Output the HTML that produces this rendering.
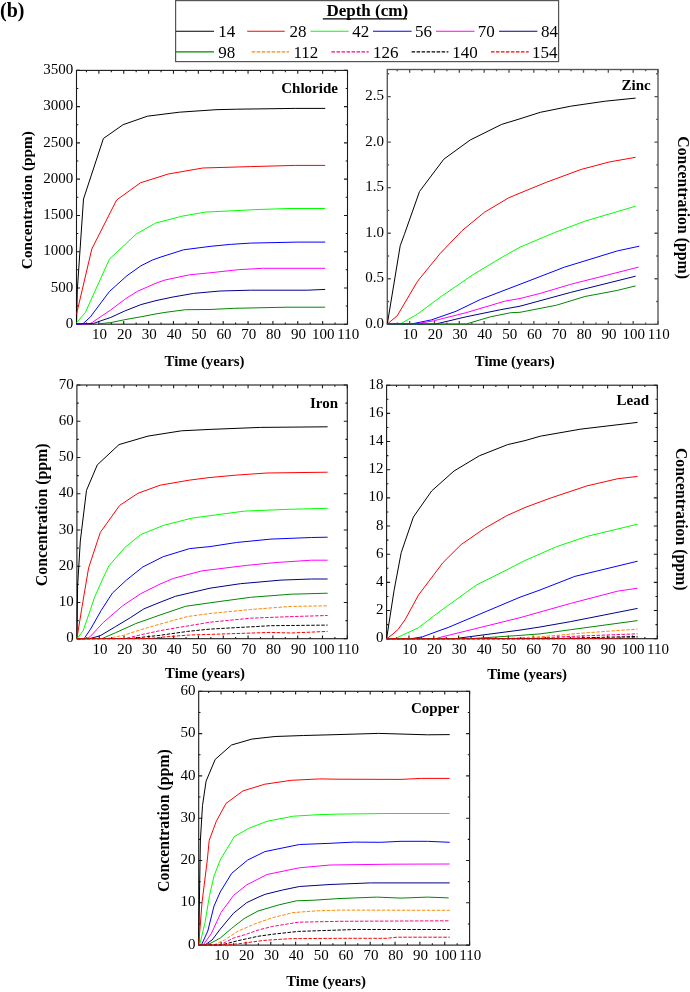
<!DOCTYPE html>
<html><head><meta charset="utf-8"><style>
html,body{margin:0;padding:0;background:#fff;width:690px;height:992px;overflow:hidden}
svg{display:block;will-change:transform}
text{font-family:"Liberation Serif", serif;fill:#000}
</style></head><body>
<svg width="690" height="992" viewBox="0 0 690 992">
<rect x="76.5" y="70.4" width="271" height="253.8" fill="none" stroke="#1a1a1a" stroke-width="1.1"/>
<text x="73.3" y="327.8" text-anchor="end" font-size="15">0</text>
<text x="73.3" y="291.54" text-anchor="end" font-size="15">500</text>
<text x="73.3" y="255.29" text-anchor="end" font-size="15">1000</text>
<text x="73.3" y="219.03" text-anchor="end" font-size="15">1500</text>
<text x="73.3" y="182.77" text-anchor="end" font-size="15">2000</text>
<text x="73.3" y="146.51" text-anchor="end" font-size="15">2500</text>
<text x="73.3" y="110.26" text-anchor="end" font-size="15">3000</text>
<text x="73.3" y="74" text-anchor="end" font-size="15">3500</text>
<path d="M86.44 324.2v-1.8M86.44 70.4v1.8M98.88 324.2v-3.3M98.88 70.4v3.3M111.31 324.2v-1.8M111.31 70.4v1.8M123.74 324.2v-3.3M123.74 70.4v3.3M136.17 324.2v-1.8M136.17 70.4v1.8M148.6 324.2v-3.3M148.6 70.4v3.3M161.03 324.2v-1.8M161.03 70.4v1.8M173.46 324.2v-3.3M173.46 70.4v3.3M185.89 324.2v-1.8M185.89 70.4v1.8M198.33 324.2v-3.3M198.33 70.4v3.3M210.76 324.2v-1.8M210.76 70.4v1.8M223.19 324.2v-3.3M223.19 70.4v3.3M235.62 324.2v-1.8M235.62 70.4v1.8M248.05 324.2v-3.3M248.05 70.4v3.3M260.48 324.2v-1.8M260.48 70.4v1.8M272.91 324.2v-3.3M272.91 70.4v3.3M285.34 324.2v-1.8M285.34 70.4v1.8M297.78 324.2v-3.3M297.78 70.4v3.3M310.21 324.2v-1.8M310.21 70.4v1.8M322.64 324.2v-3.3M322.64 70.4v3.3M335.07 324.2v-1.8M335.07 70.4v1.8M347.5 324.2v-3.3M347.5 70.4v3.3M76.5 324.2h3.5M347.5 324.2h-3.5M76.5 306.07h1.8M347.5 306.07h-1.8M76.5 287.94h3.5M347.5 287.94h-3.5M76.5 269.81h1.8M347.5 269.81h-1.8M76.5 251.69h3.5M347.5 251.69h-3.5M76.5 233.56h1.8M347.5 233.56h-1.8M76.5 215.43h3.5M347.5 215.43h-3.5M76.5 197.3h1.8M347.5 197.3h-1.8M76.5 179.17h3.5M347.5 179.17h-3.5M76.5 161.04h1.8M347.5 161.04h-1.8M76.5 142.91h3.5M347.5 142.91h-3.5M76.5 124.79h1.8M347.5 124.79h-1.8M76.5 106.66h3.5M347.5 106.66h-3.5M76.5 88.53h1.8M347.5 88.53h-1.8M76.5 70.4h3.5M347.5 70.4h-3.5" stroke="#1a1a1a" stroke-width="1.1" fill="none"/>
<text x="99.58" y="339.3" text-anchor="middle" font-size="15">10</text>
<text x="124.44" y="339.3" text-anchor="middle" font-size="15">20</text>
<text x="149.3" y="339.3" text-anchor="middle" font-size="15">30</text>
<text x="174.16" y="339.3" text-anchor="middle" font-size="15">40</text>
<text x="199.03" y="339.3" text-anchor="middle" font-size="15">50</text>
<text x="223.89" y="339.3" text-anchor="middle" font-size="15">60</text>
<text x="248.75" y="339.3" text-anchor="middle" font-size="15">70</text>
<text x="273.61" y="339.3" text-anchor="middle" font-size="15">80</text>
<text x="298.48" y="339.3" text-anchor="middle" font-size="15">90</text>
<text x="323.34" y="339.3" text-anchor="middle" font-size="15">100</text>
<text x="348.2" y="339.3" text-anchor="middle" font-size="15">110</text>
<text x="164.6" y="366" font-size="14.8" font-weight="bold">Time (years)</text>
<text transform="translate(31.6,200.1) rotate(-90)" text-anchor="middle" font-size="15.3" font-weight="bold">Concentration (ppm)</text>
<text x="337.9" y="93.2" text-anchor="end" font-size="15" font-weight="bold">Chloride</text>
<rect x="387.3" y="69.5" width="270.7" height="254.8" fill="none" stroke="#555" stroke-width="1.35"/>
<text x="384.1" y="327.9" text-anchor="end" font-size="15">0.0</text>
<text x="384.1" y="282.35" text-anchor="end" font-size="15">0.5</text>
<text x="384.1" y="236.8" text-anchor="end" font-size="15">1.0</text>
<text x="384.1" y="191.25" text-anchor="end" font-size="15">1.5</text>
<text x="384.1" y="145.7" text-anchor="end" font-size="15">2.0</text>
<text x="384.1" y="100.15" text-anchor="end" font-size="15">2.5</text>
<path d="M397.23 324.3v-1.8M397.23 69.5v1.8M409.65 324.3v-3.3M409.65 69.5v3.3M422.07 324.3v-1.8M422.07 69.5v1.8M434.49 324.3v-3.3M434.49 69.5v3.3M446.9 324.3v-1.8M446.9 69.5v1.8M459.32 324.3v-3.3M459.32 69.5v3.3M471.74 324.3v-1.8M471.74 69.5v1.8M484.16 324.3v-3.3M484.16 69.5v3.3M496.57 324.3v-1.8M496.57 69.5v1.8M508.99 324.3v-3.3M508.99 69.5v3.3M521.41 324.3v-1.8M521.41 69.5v1.8M533.83 324.3v-3.3M533.83 69.5v3.3M546.24 324.3v-1.8M546.24 69.5v1.8M558.66 324.3v-3.3M558.66 69.5v3.3M571.08 324.3v-1.8M571.08 69.5v1.8M583.5 324.3v-3.3M583.5 69.5v3.3M595.91 324.3v-1.8M595.91 69.5v1.8M608.33 324.3v-3.3M608.33 69.5v3.3M620.75 324.3v-1.8M620.75 69.5v1.8M633.17 324.3v-3.3M633.17 69.5v3.3M645.58 324.3v-1.8M645.58 69.5v1.8M658 324.3v-3.3M658 69.5v3.3M387.3 324.3h3.5M658 324.3h-3.5M387.3 301.53h1.8M658 301.53h-1.8M387.3 278.75h3.5M658 278.75h-3.5M387.3 255.98h1.8M658 255.98h-1.8M387.3 233.2h3.5M658 233.2h-3.5M387.3 210.43h1.8M658 210.43h-1.8M387.3 187.65h3.5M658 187.65h-3.5M387.3 164.88h1.8M658 164.88h-1.8M387.3 142.1h3.5M658 142.1h-3.5M387.3 119.33h1.8M658 119.33h-1.8M387.3 96.55h3.5M658 96.55h-3.5M387.3 73.78h1.8M658 73.78h-1.8" stroke="#555" stroke-width="1.35" fill="none"/>
<text x="410.35" y="339.4" text-anchor="middle" font-size="15">10</text>
<text x="435.19" y="339.4" text-anchor="middle" font-size="15">20</text>
<text x="460.02" y="339.4" text-anchor="middle" font-size="15">30</text>
<text x="484.86" y="339.4" text-anchor="middle" font-size="15">40</text>
<text x="509.69" y="339.4" text-anchor="middle" font-size="15">50</text>
<text x="534.53" y="339.4" text-anchor="middle" font-size="15">60</text>
<text x="559.36" y="339.4" text-anchor="middle" font-size="15">70</text>
<text x="584.2" y="339.4" text-anchor="middle" font-size="15">80</text>
<text x="609.03" y="339.4" text-anchor="middle" font-size="15">90</text>
<text x="633.87" y="339.4" text-anchor="middle" font-size="15">100</text>
<text x="658.7" y="339.4" text-anchor="middle" font-size="15">110</text>
<text x="474.8" y="365.7" font-size="14.8" font-weight="bold">Time (years)</text>
<text transform="translate(677.6,207.6) rotate(90)" text-anchor="middle" font-size="15.8" font-weight="bold">Concentration (ppm)</text>
<text x="650.7" y="89.6" text-anchor="end" font-size="15" font-weight="bold">Zinc</text>
<rect x="76.9" y="385" width="270.4" height="253.7" fill="none" stroke="#1a1a1a" stroke-width="1.1"/>
<text x="73.7" y="642.3" text-anchor="end" font-size="15">0</text>
<text x="73.7" y="606.06" text-anchor="end" font-size="15">10</text>
<text x="73.7" y="569.81" text-anchor="end" font-size="15">20</text>
<text x="73.7" y="533.57" text-anchor="end" font-size="15">30</text>
<text x="73.7" y="497.33" text-anchor="end" font-size="15">40</text>
<text x="73.7" y="461.09" text-anchor="end" font-size="15">50</text>
<text x="73.7" y="424.84" text-anchor="end" font-size="15">60</text>
<text x="73.7" y="388.6" text-anchor="end" font-size="15">70</text>
<path d="M86.82 638.7v-1.8M86.82 385v1.8M99.23 638.7v-3.3M99.23 385v3.3M111.63 638.7v-1.8M111.63 385v1.8M124.03 638.7v-3.3M124.03 385v3.3M136.44 638.7v-1.8M136.44 385v1.8M148.84 638.7v-3.3M148.84 385v3.3M161.24 638.7v-1.8M161.24 385v1.8M173.65 638.7v-3.3M173.65 385v3.3M186.05 638.7v-1.8M186.05 385v1.8M198.46 638.7v-3.3M198.46 385v3.3M210.86 638.7v-1.8M210.86 385v1.8M223.26 638.7v-3.3M223.26 385v3.3M235.67 638.7v-1.8M235.67 385v1.8M248.07 638.7v-3.3M248.07 385v3.3M260.47 638.7v-1.8M260.47 385v1.8M272.88 638.7v-3.3M272.88 385v3.3M285.28 638.7v-1.8M285.28 385v1.8M297.69 638.7v-3.3M297.69 385v3.3M310.09 638.7v-1.8M310.09 385v1.8M322.49 638.7v-3.3M322.49 385v3.3M334.9 638.7v-1.8M334.9 385v1.8M347.3 638.7v-3.3M347.3 385v3.3M76.9 638.7h3.5M347.3 638.7h-3.5M76.9 620.58h1.8M347.3 620.58h-1.8M76.9 602.46h3.5M347.3 602.46h-3.5M76.9 584.34h1.8M347.3 584.34h-1.8M76.9 566.21h3.5M347.3 566.21h-3.5M76.9 548.09h1.8M347.3 548.09h-1.8M76.9 529.97h3.5M347.3 529.97h-3.5M76.9 511.85h1.8M347.3 511.85h-1.8M76.9 493.73h3.5M347.3 493.73h-3.5M76.9 475.61h1.8M347.3 475.61h-1.8M76.9 457.49h3.5M347.3 457.49h-3.5M76.9 439.36h1.8M347.3 439.36h-1.8M76.9 421.24h3.5M347.3 421.24h-3.5M76.9 403.12h1.8M347.3 403.12h-1.8M76.9 385h3.5M347.3 385h-3.5" stroke="#1a1a1a" stroke-width="1.1" fill="none"/>
<text x="99.93" y="653.8" text-anchor="middle" font-size="15">10</text>
<text x="124.73" y="653.8" text-anchor="middle" font-size="15">20</text>
<text x="149.54" y="653.8" text-anchor="middle" font-size="15">30</text>
<text x="174.35" y="653.8" text-anchor="middle" font-size="15">40</text>
<text x="199.16" y="653.8" text-anchor="middle" font-size="15">50</text>
<text x="223.96" y="653.8" text-anchor="middle" font-size="15">60</text>
<text x="248.77" y="653.8" text-anchor="middle" font-size="15">70</text>
<text x="273.58" y="653.8" text-anchor="middle" font-size="15">80</text>
<text x="298.39" y="653.8" text-anchor="middle" font-size="15">90</text>
<text x="323.19" y="653.8" text-anchor="middle" font-size="15">100</text>
<text x="348" y="653.8" text-anchor="middle" font-size="15">110</text>
<text x="165.1" y="677.8" font-size="14.8" font-weight="bold">Time (years)</text>
<text transform="translate(46.8,514.85) rotate(-90)" text-anchor="middle" font-size="15.8" font-weight="bold">Concentration (ppm)</text>
<text x="338" y="407.8" text-anchor="end" font-size="15" font-weight="bold">Iron</text>
<rect x="386.6" y="385.2" width="270.7" height="253.5" fill="none" stroke="#1a1a1a" stroke-width="1.1"/>
<text x="383.4" y="642.3" text-anchor="end" font-size="15">0</text>
<text x="383.4" y="614.13" text-anchor="end" font-size="15">2</text>
<text x="383.4" y="585.97" text-anchor="end" font-size="15">4</text>
<text x="383.4" y="557.8" text-anchor="end" font-size="15">6</text>
<text x="383.4" y="529.63" text-anchor="end" font-size="15">8</text>
<text x="383.4" y="501.47" text-anchor="end" font-size="15">10</text>
<text x="383.4" y="473.3" text-anchor="end" font-size="15">12</text>
<text x="383.4" y="445.13" text-anchor="end" font-size="15">14</text>
<text x="383.4" y="416.97" text-anchor="end" font-size="15">16</text>
<text x="383.4" y="388.8" text-anchor="end" font-size="15">18</text>
<path d="M396.53 638.7v-1.8M396.53 385.2v1.8M408.95 638.7v-3.3M408.95 385.2v3.3M421.37 638.7v-1.8M421.37 385.2v1.8M433.79 638.7v-3.3M433.79 385.2v3.3M446.2 638.7v-1.8M446.2 385.2v1.8M458.62 638.7v-3.3M458.62 385.2v3.3M471.04 638.7v-1.8M471.04 385.2v1.8M483.46 638.7v-3.3M483.46 385.2v3.3M495.87 638.7v-1.8M495.87 385.2v1.8M508.29 638.7v-3.3M508.29 385.2v3.3M520.71 638.7v-1.8M520.71 385.2v1.8M533.13 638.7v-3.3M533.13 385.2v3.3M545.54 638.7v-1.8M545.54 385.2v1.8M557.96 638.7v-3.3M557.96 385.2v3.3M570.38 638.7v-1.8M570.38 385.2v1.8M582.8 638.7v-3.3M582.8 385.2v3.3M595.21 638.7v-1.8M595.21 385.2v1.8M607.63 638.7v-3.3M607.63 385.2v3.3M620.05 638.7v-1.8M620.05 385.2v1.8M632.47 638.7v-3.3M632.47 385.2v3.3M644.88 638.7v-1.8M644.88 385.2v1.8M657.3 638.7v-3.3M657.3 385.2v3.3M386.6 638.7h3.5M657.3 638.7h-3.5M386.6 624.62h1.8M657.3 624.62h-1.8M386.6 610.53h3.5M657.3 610.53h-3.5M386.6 596.45h1.8M657.3 596.45h-1.8M386.6 582.37h3.5M657.3 582.37h-3.5M386.6 568.28h1.8M657.3 568.28h-1.8M386.6 554.2h3.5M657.3 554.2h-3.5M386.6 540.12h1.8M657.3 540.12h-1.8M386.6 526.03h3.5M657.3 526.03h-3.5M386.6 511.95h1.8M657.3 511.95h-1.8M386.6 497.87h3.5M657.3 497.87h-3.5M386.6 483.78h1.8M657.3 483.78h-1.8M386.6 469.7h3.5M657.3 469.7h-3.5M386.6 455.62h1.8M657.3 455.62h-1.8M386.6 441.53h3.5M657.3 441.53h-3.5M386.6 427.45h1.8M657.3 427.45h-1.8M386.6 413.37h3.5M657.3 413.37h-3.5M386.6 399.28h1.8M657.3 399.28h-1.8M386.6 385.2h3.5M657.3 385.2h-3.5" stroke="#1a1a1a" stroke-width="1.1" fill="none"/>
<text x="409.65" y="653.8" text-anchor="middle" font-size="15">10</text>
<text x="434.49" y="653.8" text-anchor="middle" font-size="15">20</text>
<text x="459.32" y="653.8" text-anchor="middle" font-size="15">30</text>
<text x="484.16" y="653.8" text-anchor="middle" font-size="15">40</text>
<text x="508.99" y="653.8" text-anchor="middle" font-size="15">50</text>
<text x="533.83" y="653.8" text-anchor="middle" font-size="15">60</text>
<text x="558.66" y="653.8" text-anchor="middle" font-size="15">70</text>
<text x="583.5" y="653.8" text-anchor="middle" font-size="15">80</text>
<text x="608.33" y="653.8" text-anchor="middle" font-size="15">90</text>
<text x="633.17" y="653.8" text-anchor="middle" font-size="15">100</text>
<text x="658" y="653.8" text-anchor="middle" font-size="15">110</text>
<text x="487.2" y="678.6" font-size="14.8" font-weight="bold">Time (years)</text>
<text transform="translate(676,519.2) rotate(90)" text-anchor="middle" font-size="15.8" font-weight="bold">Concentration (ppm)</text>
<text x="649" y="405" text-anchor="end" font-size="15" font-weight="bold">Lead</text>
<rect x="198.7" y="691.3" width="270.9" height="253.8" fill="none" stroke="#1a1a1a" stroke-width="1.1"/>
<text x="195.5" y="948.7" text-anchor="end" font-size="15">0</text>
<text x="195.5" y="906.4" text-anchor="end" font-size="15">10</text>
<text x="195.5" y="864.1" text-anchor="end" font-size="15">20</text>
<text x="195.5" y="821.8" text-anchor="end" font-size="15">30</text>
<text x="195.5" y="779.5" text-anchor="end" font-size="15">40</text>
<text x="195.5" y="737.2" text-anchor="end" font-size="15">50</text>
<text x="195.5" y="694.9" text-anchor="end" font-size="15">60</text>
<path d="M208.64 945.1v-1.8M208.64 691.3v1.8M221.07 945.1v-3.3M221.07 691.3v3.3M233.49 945.1v-1.8M233.49 691.3v1.8M245.92 945.1v-3.3M245.92 691.3v3.3M258.35 945.1v-1.8M258.35 691.3v1.8M270.77 945.1v-3.3M270.77 691.3v3.3M283.2 945.1v-1.8M283.2 691.3v1.8M295.63 945.1v-3.3M295.63 691.3v3.3M308.05 945.1v-1.8M308.05 691.3v1.8M320.48 945.1v-3.3M320.48 691.3v3.3M332.91 945.1v-1.8M332.91 691.3v1.8M345.33 945.1v-3.3M345.33 691.3v3.3M357.76 945.1v-1.8M357.76 691.3v1.8M370.19 945.1v-3.3M370.19 691.3v3.3M382.61 945.1v-1.8M382.61 691.3v1.8M395.04 945.1v-3.3M395.04 691.3v3.3M407.47 945.1v-1.8M407.47 691.3v1.8M419.89 945.1v-3.3M419.89 691.3v3.3M432.32 945.1v-1.8M432.32 691.3v1.8M444.75 945.1v-3.3M444.75 691.3v3.3M457.17 945.1v-1.8M457.17 691.3v1.8M469.6 945.1v-3.3M469.6 691.3v3.3M198.7 945.1h3.5M469.6 945.1h-3.5M198.7 923.95h1.8M469.6 923.95h-1.8M198.7 902.8h3.5M469.6 902.8h-3.5M198.7 881.65h1.8M469.6 881.65h-1.8M198.7 860.5h3.5M469.6 860.5h-3.5M198.7 839.35h1.8M469.6 839.35h-1.8M198.7 818.2h3.5M469.6 818.2h-3.5M198.7 797.05h1.8M469.6 797.05h-1.8M198.7 775.9h3.5M469.6 775.9h-3.5M198.7 754.75h1.8M469.6 754.75h-1.8M198.7 733.6h3.5M469.6 733.6h-3.5M198.7 712.45h1.8M469.6 712.45h-1.8M198.7 691.3h3.5M469.6 691.3h-3.5" stroke="#1a1a1a" stroke-width="1.1" fill="none"/>
<text x="221.77" y="960.2" text-anchor="middle" font-size="15">10</text>
<text x="246.62" y="960.2" text-anchor="middle" font-size="15">20</text>
<text x="271.47" y="960.2" text-anchor="middle" font-size="15">30</text>
<text x="296.33" y="960.2" text-anchor="middle" font-size="15">40</text>
<text x="321.18" y="960.2" text-anchor="middle" font-size="15">50</text>
<text x="346.03" y="960.2" text-anchor="middle" font-size="15">60</text>
<text x="370.89" y="960.2" text-anchor="middle" font-size="15">70</text>
<text x="395.74" y="960.2" text-anchor="middle" font-size="15">80</text>
<text x="420.59" y="960.2" text-anchor="middle" font-size="15">90</text>
<text x="445.45" y="960.2" text-anchor="middle" font-size="15">100</text>
<text x="470.3" y="960.2" text-anchor="middle" font-size="15">110</text>
<text x="286.2" y="985.9" font-size="14.8" font-weight="bold">Time (years)</text>
<text transform="translate(169,820.6) rotate(-90)" text-anchor="middle" font-size="15.8" font-weight="bold">Concentration (ppm)</text>
<text x="459.3" y="712.5" text-anchor="end" font-size="15" font-weight="bold">Copper</text>
<rect x="175.6" y="0.6" width="383" height="61" fill="none" stroke="#555" stroke-width="1.2"/>
<text x="326.4" y="16" font-size="17" font-weight="bold">Depth (cm)</text>
<line x1="322.8" y1="18.8" x2="407" y2="18.8" stroke="#000" stroke-width="1.2"/>
<line x1="176" y1="31.3" x2="214" y2="31.3" stroke="#000" stroke-width="1.1"/>
<text x="218.3" y="37.2" font-size="17">14</text>
<line x1="247.2" y1="31.3" x2="284.7" y2="31.3" stroke="#f00" stroke-width="1.1"/>
<text x="289.4" y="37.2" font-size="17">28</text>
<line x1="310.5" y1="31.3" x2="348.7" y2="31.3" stroke="#0f0" stroke-width="1.1"/>
<text x="352.2" y="37.2" font-size="17">42</text>
<line x1="373" y1="31.3" x2="411.6" y2="31.3" stroke="#00f" stroke-width="1.1"/>
<text x="415" y="37.2" font-size="17">56</text>
<line x1="436" y1="31.3" x2="474.5" y2="31.3" stroke="#f0f" stroke-width="1.1"/>
<text x="477.8" y="37.2" font-size="17">70</text>
<line x1="499.1" y1="31.3" x2="537.4" y2="31.3" stroke="#008" stroke-width="1.1"/>
<text x="541" y="37.2" font-size="17">84</text>
<line x1="176" y1="51.9" x2="214" y2="51.9" stroke="#080" stroke-width="1.1"/>
<text x="218.2" y="58.0" font-size="17">98</text>
<line x1="251.7" y1="51.9" x2="289.1" y2="51.9" stroke="#f80" stroke-width="1.1" stroke-dasharray="3.5,1.5"/>
<text x="293.4" y="58.0" font-size="17">112</text>
<line x1="331.5" y1="51.9" x2="368.7" y2="51.9" stroke="#f08" stroke-width="1.1" stroke-dasharray="3.5,1.5"/>
<text x="372.9" y="58.0" font-size="17">126</text>
<line x1="411.6" y1="51.9" x2="448.4" y2="51.9" stroke="#000" stroke-width="1.1" stroke-dasharray="3.5,1.5"/>
<text x="452.3" y="58.0" font-size="17">140</text>
<line x1="491" y1="51.9" x2="528.7" y2="51.9" stroke="#f00" stroke-width="1.1" stroke-dasharray="3.5,1.5"/>
<text x="532" y="58.0" font-size="17">154</text>
<text x="0" y="16.5" font-size="20" font-weight="bold">(b)</text>
<polyline points="76.5,324 77.3,290 83.5,199 103.4,138.5 123.1,124.7 147.4,116.2 179.4,112.2 216,109.7 236.4,109.2 295.2,108.4 325.2,108.4" fill="none" stroke="#000" stroke-width="1" stroke-linejoin="round"/>
<polyline points="76.5,314.2 91.8,249 116.6,200 140.5,182.8 168.3,174 202.8,168 250.6,166.6 295.2,165.4 325.2,165.4" fill="none" stroke="#f00" stroke-width="1" stroke-linejoin="round"/>
<polyline points="76.5,322.7 85.2,312.8 109.5,259 136.3,234 155.6,223.1 182.5,216.1 205.8,212 216,211.6 258,209.5 289,208.5 325.2,208.5" fill="none" stroke="#0f0" stroke-width="1" stroke-linejoin="round"/>
<polyline points="76.5,324 83.1,323.6 90.4,316.9 109.5,291.4 127,275.7 140.9,265.8 152.5,260 160,257.3 183.5,249.8 210,246.4 230.3,244.4 250.6,243.1 297.2,242.1 325.2,242.1" fill="none" stroke="#00f" stroke-width="1" stroke-linejoin="round"/>
<polyline points="76.5,324 88.5,323.9 91.1,323.2 110.8,309.9 124.7,299.4 137.4,291.3 156,283.2 165,280 189.6,274.8 210,272.8 238.4,269.7 262.7,268.3 325.2,268.3" fill="none" stroke="#f0f" stroke-width="1" stroke-linejoin="round"/>
<polyline points="76.5,324 93.4,323.5 99.2,321.4 110.8,317.4 124.7,311 140.9,304.6 156,300.6 172,297.2 193.6,293.4 220.1,291 250.6,290.2 307.4,290.2 325.2,289.4" fill="none" stroke="#008" stroke-width="1" stroke-linejoin="round"/>
<polyline points="99.2,323.7 110.8,322.6 124.7,319.7 140.9,316.8 156,313.9 165,312.4 185.5,309.7 210,309.5 234.3,308.3 287.1,307.2 325.2,307.2" fill="none" stroke="#080" stroke-width="1" stroke-linejoin="round"/>
<polyline points="387.3,324 400.2,245.8 404.3,234.6 419.5,191.5 443.8,159.2 470.2,140 501.6,124.4 520,118.8 540.3,112.3 570.7,106.2 605.2,101.2 635.6,98.1" fill="none" stroke="#000" stroke-width="1" stroke-linejoin="round"/>
<polyline points="387.3,324 397.2,315.8 417.5,281.3 439.8,253.9 462.1,230.6 484.4,212.3 508.7,197.8 525,191 546.4,182.3 580.9,169.5 609.2,162 635.6,157.3" fill="none" stroke="#f00" stroke-width="1" stroke-linejoin="round"/>
<polyline points="387.3,324 400.2,324 417.5,314.1 439.8,297.5 472.2,275.2 502.6,256.9 520,247.2 554.5,232.6 584.9,221.2 635.6,206.2" fill="none" stroke="#0f0" stroke-width="1" stroke-linejoin="round"/>
<polyline points="387.3,324 411.4,324 431.7,319.8 456,311.3 480.3,299.5 520,284.3 564.6,267.1 617.4,250.9 639.3,246.2" fill="none" stroke="#00f" stroke-width="1" stroke-linejoin="round"/>
<polyline points="387.3,324 415.4,324 433.7,320.8 466.1,312.7 504.7,301.2 520,298.5 540.3,293.4 570.7,284.3 638.7,267.1" fill="none" stroke="#f0f" stroke-width="1" stroke-linejoin="round"/>
<polyline points="387.3,324 435.7,324 466.1,316.8 500.6,309.7 520,306.2 570.7,292.4 635.6,276.2" fill="none" stroke="#008" stroke-width="1" stroke-linejoin="round"/>
<polyline points="387.3,324 466.1,324 490.5,316.8 510.8,312.7 520,312.3 556.5,305.2 584.9,296.5 617.4,290.4 635.6,285.9" fill="none" stroke="#080" stroke-width="1" stroke-linejoin="round"/>
<polyline points="76.9,638.7 77.6,586 80.3,541 86.5,490.3 97.3,464.9 119,444.6 148,436.1 181.5,430.8 210,429.4 260.7,427.4 327.6,426.8" fill="none" stroke="#000" stroke-width="1" stroke-linejoin="round"/>
<polyline points="76.9,638.7 82.1,606.4 88.6,567.9 100.3,532.4 119.6,505.5 137.9,493.3 160.2,485.2 189.6,480.1 210,477.5 236.4,475.1 266.8,473 327.6,472.2" fill="none" stroke="#f00" stroke-width="1" stroke-linejoin="round"/>
<polyline points="76.9,638.7 83.1,630.8 90.5,609.4 94.3,598 102.2,580 108.9,565.9 124.7,547.6 140.7,534.6 163.2,525.5 191.6,518.2 210,515.7 244.5,511.1 289,509.3 327.6,508.3" fill="none" stroke="#0f0" stroke-width="1" stroke-linejoin="round"/>
<polyline points="76.9,638.7 84.1,638.7 90.5,629.2 101.2,610.4 112.3,593.2 126.5,580 142.9,566.9 163.2,556.7 189.6,548.6 210,546.6 236.4,542.5 270.9,539.1 311.4,537.5 327.6,537.2" fill="none" stroke="#00f" stroke-width="1" stroke-linejoin="round"/>
<polyline points="76.9,638.7 87.2,638.7 90.5,636.3 103.2,622.6 122.5,605.9 140.7,593.7 160,584.1 173.4,578.4 201.8,570.9 210,569.9 246.5,565.4 274.9,562.6 311.4,560.2 327.6,560.2" fill="none" stroke="#f0f" stroke-width="1" stroke-linejoin="round"/>
<polyline points="76.9,638.7 90,638.5 100.1,635.8 115.4,626.7 130.6,617.5 143.8,608.9 160,602.3 175.4,596.3 210,588.2 240.4,583.7 281,580.1 311.4,579 327.6,579" fill="none" stroke="#008" stroke-width="1" stroke-linejoin="round"/>
<polyline points="76.9,638.7 102.2,638.5 115.4,632.8 135.7,623.6 160,615 185.5,606.3 210,602.8 250.6,597.3 291.1,594.2 327.6,593.2" fill="none" stroke="#080" stroke-width="1" stroke-linejoin="round"/>
<polyline points="76.9,638.7 107.2,638.5 123.5,635.3 140.7,629.7 160,624.1 187.6,616.5 210,613.5 250.6,609.5 291.1,606.4 327.6,605.8" fill="none" stroke="#f80" stroke-width="1" stroke-linejoin="round" stroke-dasharray="3.5,1.5"/>
<polyline points="76.9,638.7 125,638.5 140.7,634.8 160,630.7 176,627.9 210,622.2 250.6,618.2 291.1,616.6 327.6,615.5" fill="none" stroke="#f08" stroke-width="1" stroke-linejoin="round" stroke-dasharray="3.5,1.5"/>
<polyline points="76.9,638.7 130.6,638.5 160,635.3 187.6,631.4 210,629.1 270.9,625.7 327.6,625.1" fill="none" stroke="#000" stroke-width="1" stroke-linejoin="round" stroke-dasharray="3.5,1.5"/>
<polyline points="76.9,638.7 150,638.5 160,637.3 189.6,635 210,634.4 270.9,632.4 291.1,633 327.6,631.4" fill="none" stroke="#f00" stroke-width="1" stroke-linejoin="round" stroke-dasharray="3.5,1.5"/>
<polyline points="386.6,638.7 394.1,590.2 401.2,552.7 413.4,517 431.7,490.9 454,471 479.3,455.8 507.7,444.6 525,440.6 540.3,436.2 580.9,429.1 637.6,422.4" fill="none" stroke="#000" stroke-width="1" stroke-linejoin="round"/>
<polyline points="386.6,638.7 392,634.8 398.2,629.3 405.2,619.5 418.5,595 442.8,562.8 461.1,544.6 484.4,528.5 506.7,515.7 525,507.5 550.4,498.1 586.9,485.9 617.4,478.8 637.6,476.4" fill="none" stroke="#f00" stroke-width="1" stroke-linejoin="round"/>
<polyline points="386.6,638.7 395.1,638.7 403.3,634.8 418.5,627.7 440,611.3 476.3,585.1 506.7,569.9 525,560.5 556.5,546.7 586.9,536.4 637.6,524.2" fill="none" stroke="#0f0" stroke-width="1" stroke-linejoin="round"/>
<polyline points="386.6,638.7 411.4,638.7 422.5,636.8 440,630.4 448.1,627.5 520,597.2 540,590 574.8,576.4 637.6,561.2" fill="none" stroke="#00f" stroke-width="1" stroke-linejoin="round"/>
<polyline points="386.6,638.7 435.7,638.7 440,637.4 520,617.7 570.7,603.4 617.4,591.2 637.6,588.2" fill="none" stroke="#f0f" stroke-width="1" stroke-linejoin="round"/>
<polyline points="386.6,638.7 456,638.7 459.7,638 520,630.1 540,627 570.7,621.6 637.6,608.4" fill="none" stroke="#008" stroke-width="1" stroke-linejoin="round"/>
<polyline points="386.6,638.7 470.2,638.7 520,635.4 540,633.9 570.7,629.7 637.6,620.6" fill="none" stroke="#080" stroke-width="1" stroke-linejoin="round"/>
<polyline points="386.6,638.7 500,638.7 540.3,636.8 580.9,633.2 637.6,629.1" fill="none" stroke="#f80" stroke-width="1" stroke-linejoin="round" stroke-dasharray="3.5,1.5"/>
<polyline points="386.6,638.7 525,638.7 570.7,636.4 637.6,633.8" fill="none" stroke="#f08" stroke-width="1" stroke-linejoin="round" stroke-dasharray="3.5,1.5"/>
<polyline points="386.6,638.7 550,638.7 637.6,636.4" fill="none" stroke="#000" stroke-width="1" stroke-linejoin="round" stroke-dasharray="3.5,1.5"/>
<polyline points="386.6,638.7 580,638.7 637.6,637.6" fill="none" stroke="#f00" stroke-width="1" stroke-linejoin="round" stroke-dasharray="3.5,1.5"/>
<polyline points="198.7,945 200.4,840 202.5,805.5 206.1,781.1 215.2,759.4 231.5,745 251.8,739.1 275.1,736.5 303.5,735.5 330,734.8 378.7,733.4 427.4,734.8 449.7,734.6" fill="none" stroke="#000" stroke-width="1" stroke-linejoin="round"/>
<polyline points="198.7,945 202,902.6 207.3,860 209.2,840.4 216.3,821.3 226,803.4 243,790.9 264.9,784.2 291.3,780.3 319.7,778.9 338,779.2 401,779.4 421.3,778.4 449.7,778.4" fill="none" stroke="#f00" stroke-width="1" stroke-linejoin="round"/>
<polyline points="198.7,945 199.8,944.5 205.1,922.1 209.5,895.5 214,876 220.2,860 234.5,836.4 248.7,828.4 267,821.3 293.3,816.2 319.7,814.6 338,814.1 386.8,813.5 449.7,813.5" fill="none" stroke="#0f0" stroke-width="1" stroke-linejoin="round"/>
<polyline points="198.7,945 201.5,944.8 207.8,931 214,906.1 220.2,892 231.7,873.3 247.7,860 264.9,851.6 299.4,844.5 330,843.3 354.3,842.1 380.7,842.3 401,841.3 427.4,841.3 449.7,842.3" fill="none" stroke="#00f" stroke-width="1" stroke-linejoin="round"/>
<polyline points="198.7,945 203.3,944.8 211.3,933.6 221.1,912.4 233.5,895.5 246.8,884.8 258,879.1 267,874.5 299.4,867.8 330,865 390.9,864.2 449.7,864" fill="none" stroke="#f0f" stroke-width="1" stroke-linejoin="round"/>
<polyline points="198.7,945 205.1,944.8 212.2,939.9 220.2,929.2 233.5,913.2 246.8,902.6 258,897.3 265.2,894.3 282.6,890 299.4,886.5 330,884.5 370.6,882.9 449.7,882.9" fill="none" stroke="#008" stroke-width="1" stroke-linejoin="round"/>
<polyline points="198.7,945 207.8,944.8 220.2,938.1 231.7,928.3 244.1,918.6 258,911 279.1,904.8 296.5,900.8 313.9,900.2 340,898.5 376.7,897.1 401,898.1 427.4,897.1 448.7,897.9" fill="none" stroke="#080" stroke-width="1" stroke-linejoin="round"/>
<polyline points="198.7,945 214,944.8 224.6,939.9 237.9,931.2 254.8,923.9 272.2,917.8 293,912.6 315.7,910.9 340,910.1 449.7,910.3" fill="none" stroke="#f80" stroke-width="1" stroke-linejoin="round" stroke-dasharray="3.5,1.5"/>
<polyline points="198.7,945 220.2,944.8 233.5,938.1 246.1,934.3 258,930.1 272.2,926.5 298.3,922.2 340,921.3 449.7,920.8" fill="none" stroke="#f08" stroke-width="1" stroke-linejoin="round" stroke-dasharray="3.5,1.5"/>
<polyline points="198.7,945 222,944.8 237.9,940.7 258,936.3 272.2,934.3 298.3,931.4 340,930 356.4,929.5 449.7,929.5" fill="none" stroke="#000" stroke-width="1" stroke-linejoin="round" stroke-dasharray="3.5,1.5"/>
<polyline points="198.7,945 224.6,944.8 237.4,943.9 258,941.2 263.5,940.4 289.6,938.7 340,938.3 386.8,938.3 396.9,937.2 449.7,937.2" fill="none" stroke="#f00" stroke-width="1" stroke-linejoin="round" stroke-dasharray="3.5,1.5"/>
</svg>
</body></html>
